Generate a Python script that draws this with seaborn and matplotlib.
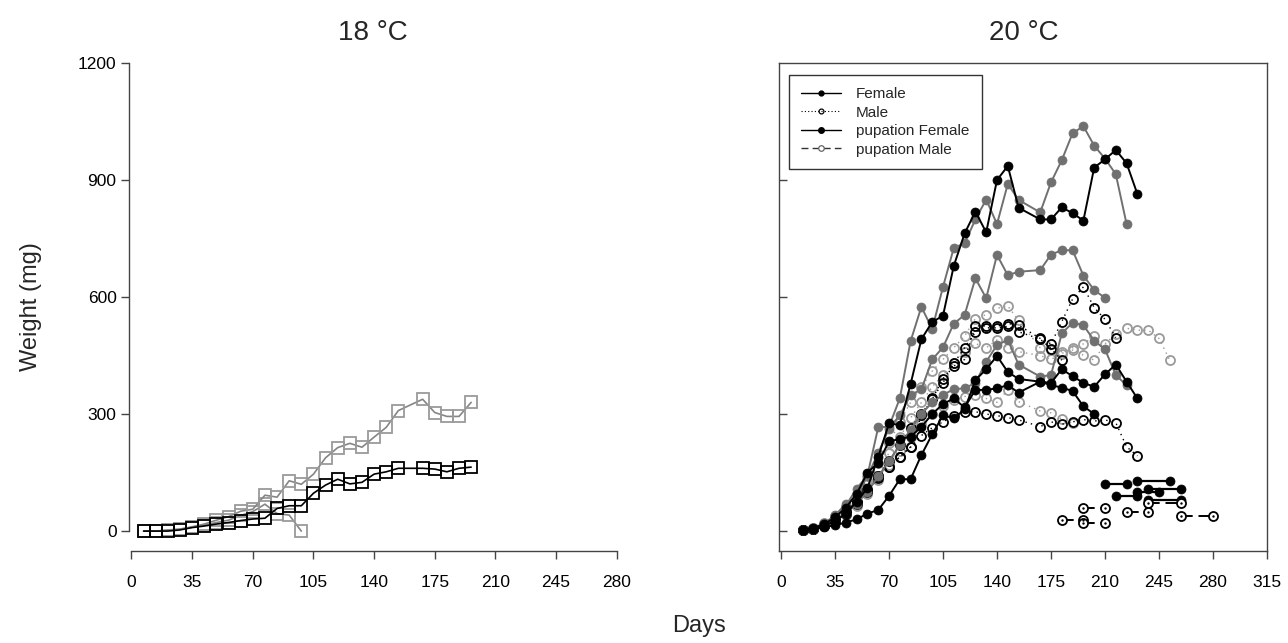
import matplotlib
matplotlib.use("Agg")
import matplotlib.pyplot as plt
from matplotlib.lines import Line2D
import seaborn as sns

# ---------------- 18 °C : weekly weights (mg)
days18 = [7, 14, 21, 28, 35, 42, 49, 56, 63, 70, 77, 84, 91, 98, 105, 112, 119,
          126, 133, 140, 147, 154, 168, 175, 182, 189, 196]
black18 = [0, 0, 0, 3, 9, 13, 18, 22, 27, 31, 33, 58, 65, 65, 97, 118, 133, 121,
           125, 146, 152, 161, 161, 159, 152, 161, 164]
gray18a = [0, 0, 3, 5, 11, 18, 28, 37, 51, 56, 92, 87, 129, 120, 146, 188, 214,
           225, 215, 241, 266, 309, 338, 304, 294, 294, 330]
days18b = [7, 14, 21, 28, 35, 42, 49, 56, 63, 70, 77, 84, 91, 98]
gray18b = [0, 0, 2, 5, 10, 15, 22, 28, 40, 50, 69, 45, 41, 0]

# ---------------- 20 °C : weekly weights (mg)
d231 = [14, 21, 28, 35, 42, 49, 56, 63, 70, 77, 84, 91, 98, 105, 112, 119, 126,
        133, 140, 147, 154, 168, 175, 182, 189, 196, 203, 210, 217, 224, 231]
d224 = d231[:-1]
d217 = d231[:-2]
d210 = d231[:-3]
d203 = d231[:-4]
d189 = d231[:-6]
d182 = d231[:-7]
d252 = d231 + [238, 245, 252]

# females (filled circles, solid)
fem_black1 = [4, 5, 14, 25, 45, 75, 110, 190, 276, 272, 377, 492, 536, 552, 680,
              763, 819, 766, 900, 936, 829, 799, 799, 830, 815, 796, 932, 953,
              977, 943, 864]
fem_black2 = [3, 5, 10, 15, 22, 30, 45, 54, 90, 133, 133, 195, 248, 297, 289, 312,
              387, 415, 449, 408, 390, 383, 374, 368, 359, 320, 300]
fem_black3 = [4, 8, 18, 35, 60, 95, 150, 175, 230, 236, 242, 267, 300, 326, 340,
              317, 362, 362, 366, 374, 355, 383, 380, 415, 397, 380, 370, 402,
              427, 383, 340]
fem_gray1 = [3, 6, 18, 35, 65, 109, 142, 266, 268, 340, 487, 575, 518, 626, 726,
             738, 799, 850, 787, 890, 849, 817, 894, 951, 1020, 1038, 988, 955,
             915, 787]
fem_gray2 = [4, 8, 20, 40, 70, 90, 140, 200, 263, 297, 349, 363, 440, 471, 532,
             554, 648, 597, 708, 656, 665, 669, 709, 720, 720, 655, 618, 598]
fem_gray3 = [3, 6, 12, 25, 45, 70, 100, 140, 180, 220, 260, 300, 330, 349, 364,
             366, 380, 434, 477, 490, 427, 396, 400, 507, 534, 528, 488, 466,
             400, 374]

# males (open circles, dotted)
male_black1 = [3, 6, 14, 28, 48, 75, 105, 140, 180, 220, 265, 300, 340, 380, 430,
               470, 510, 520, 525, 532, 528, 494, 480, 537, 595, 626, 573, 543, 496]
male_black2 = [3, 6, 15, 30, 50, 75, 105, 140, 165, 190, 215, 245, 265, 280, 295,
               305, 306, 300, 296, 291, 285, 268, 280, 274, 280, 286, 282, 285,
               278, 216, 193]
male_black3 = [3, 5, 12, 25, 45, 70, 100, 135, 165, 190, 216, 297, 338, 391, 423,
               440, 526, 526, 520, 525, 511, 492, 468, 438]
male_gray1 = [4, 7, 18, 35, 60, 95, 130, 175, 225, 280, 330, 370, 410, 440, 470,
              500, 545, 555, 571, 577, 540, 470, 465, 460, 464, 451, 438, 480,
              505, 520, 515, 515, 494, 438]
male_gray2 = [3, 5, 12, 24, 42, 65, 95, 130, 170, 205, 240, 275, 300, 320, 335,
              345, 350, 340, 330, 362, 332, 308, 303, 287, 276]
male_gray3 = [4, 8, 20, 38, 62, 92, 125, 160, 200, 240, 290, 330, 370, 400, 430,
              460, 481, 470, 490, 470, 460, 450, 440, 455, 470, 480, 500]

# pupation: start day, end day, weight
pupf_start = [210, 231, 238, 217, 231, 238]
pupf_end = [224, 252, 259, 231, 245, 259]
pupf_wt = [120, 129, 109, 90, 99, 79]
pupm_start = [196, 182, 196, 224, 238, 259]
pupm_end = [210, 196, 210, 238, 259, 280]
pupm_wt = [60, 28, 20, 49, 71, 39]

BLACK = "#000000"
DGRAY = "#707070"
LGRAY = "#9a9a9a"
AXCOL = "#444444"

sns.set_style("ticks")
plt.rcParams["font.family"] = ["Liberation Sans", "DejaVu Sans"]

fig = plt.figure(figsize=(12.88, 6.43), dpi=100)
ax1 = fig.add_axes([0.1002, 0.1431, 0.3789, 0.7589])
ax2 = fig.add_axes([0.6048, 0.1431, 0.3789, 0.7589])


def draw(ax, x, y, color, marker, ms, mfc, mec, ls="-", lw=1.2, mew=1.3, z=2):
    sns.lineplot(x=x, y=y, ax=ax, color=color, marker=marker, markersize=ms,
                 markerfacecolor=mfc, mec=mec, mew=mew, linestyle=ls,
                 linewidth=lw, sort=False, estimator=None, zorder=z)


# left panel
draw(ax1, days18b, gray18b, "#858585", "s", 8, "none", LGRAY)
draw(ax1, days18, gray18a, "#858585", "s", 8, "none", LGRAY)
draw(ax1, days18, black18, BLACK, "s", 8, "none", BLACK)

# right panel
dot = (0, (1, 3))
draw(ax2, d252, male_gray1, LGRAY, "o", 6.5, "none", LGRAY, dot, 1.0)
draw(ax2, d189, male_gray2, LGRAY, "o", 6.5, "none", LGRAY, dot, 1.0)
draw(ax2, d203, male_gray3, LGRAY, "o", 6.5, "none", LGRAY, dot, 1.0)
draw(ax2, d217, male_black1, BLACK, "o", 6.5, "none", BLACK, dot, 1.0)
draw(ax2, d231, male_black2, BLACK, "o", 6.5, "none", BLACK, dot, 1.0)
draw(ax2, d182, male_black3, BLACK, "o", 6.5, "none", BLACK, dot, 1.0)
draw(ax2, d224, fem_gray1, DGRAY, "o", 6.5, DGRAY, DGRAY, "-", 1.4, 0.5)
draw(ax2, d210, fem_gray2, DGRAY, "o", 6.5, DGRAY, DGRAY, "-", 1.4, 0.5)
draw(ax2, d224, fem_gray3, DGRAY, "o", 6.5, DGRAY, DGRAY, "-", 1.4, 0.5)
draw(ax2, d231, fem_black1, BLACK, "o", 6.5, BLACK, BLACK, "-", 1.4, 0.5)
draw(ax2, d203, fem_black2, BLACK, "o", 6.5, BLACK, BLACK, "-", 1.4, 0.5)
draw(ax2, d231, fem_black3, BLACK, "o", 6.5, BLACK, BLACK, "-", 1.4, 0.5)

for s, e, w in zip(pupf_start, pupf_end, pupf_wt):
    draw(ax2, [s, e], [w, w], BLACK, "o", 6.5, BLACK, BLACK, "-", 1.6, 0.5, 3)
for s, e, w in zip(pupm_start, pupm_end, pupm_wt):
    draw(ax2, [s, e], [w, w], BLACK, "o", 6.5, "white", BLACK, (0, (6, 3)), 1.4, 1.3, 3)
    sns.scatterplot(x=[s, e], y=[w, w], ax=ax2, color=BLACK, s=3, linewidth=0,
                    zorder=4, legend=False)

# axes styling
for ax in (ax1, ax2):
    ax.set_ylim(-51, 1200)
    ax.set_xlabel("")
    ax.set_ylabel("")
    for sp in ax.spines.values():
        sp.set_color(AXCOL)
        sp.set_linewidth(1.0)
    ax.tick_params(axis="both", colors=AXCOL, labelcolor="black", labelsize=12.5,
                   length=6, width=1.0)
    ax.tick_params(axis="x", direction="out", pad=11)

ax1.set_xlim(-1.4, 280.2)
ax1.set_xticks(list(range(0, 281, 35)))
ax1.set_yticks([0, 300, 600, 900, 1200])
ax1.spines["top"].set_visible(False)
ax1.spines["right"].set_visible(False)
ax1.spines["left"].set_bounds(0, 1200)
ax1.spines["bottom"].set_bounds(0, 280)
ax1.tick_params(axis="y", direction="out", pad=3)

ax2.set_xlim(-1.3, 315)
ax2.set_xticks(list(range(0, 316, 35)))
ax2.set_yticks([0, 300, 600, 900])
ax2.set_yticklabels([])
ax2.tick_params(axis="y", direction="in")

handles = [
    Line2D([], [], color=BLACK, lw=1.0, marker="o", ms=3.5, mfc=BLACK, mec=BLACK),
    Line2D([], [], color=BLACK, lw=0.8, ls=(0, (1, 2)), marker="o", ms=3.5,
           mfc="none", mec=BLACK, mew=0.9),
    Line2D([], [], color=BLACK, lw=1.0, marker="o", ms=4, mfc=BLACK, mec=BLACK),
    Line2D([], [], color="#333333", lw=1.0, ls=(0, (5, 3)), marker="o", ms=4,
           mfc="white", mec="#666666", mew=0.9),
]
labels = ["Female", "Male", "pupation Female", "pupation Male"]
leg = ax2.legend(handles, labels, loc="upper left", bbox_to_anchor=(0.02, 0.976),
                 borderaxespad=0, frameon=True, fancybox=False, fontsize=11,
                 handlelength=2.6, handletextpad=1.0, labelspacing=0.3,
                 borderpad=0.8, numpoints=1)
leg.get_frame().set_edgecolor(BLACK)
leg.get_frame().set_linewidth(1.0)

fig.text(373 / 1288, 1 - 33 / 643, "18 °C", ha="center", va="center", fontsize=20)
fig.text(1023.5 / 1288, 1 - 33 / 643, "20 °C", ha="center", va="center", fontsize=20)
fig.text(698.5 / 1288, 1 - 626 / 643, "Days", ha="center", va="center", fontsize=17)
fig.text(31 / 1288, 1 - 307 / 643, "Weight (mg)", ha="center", va="center",
         rotation=90, fontsize=17)

fig.savefig("out.png", dpi=100)
